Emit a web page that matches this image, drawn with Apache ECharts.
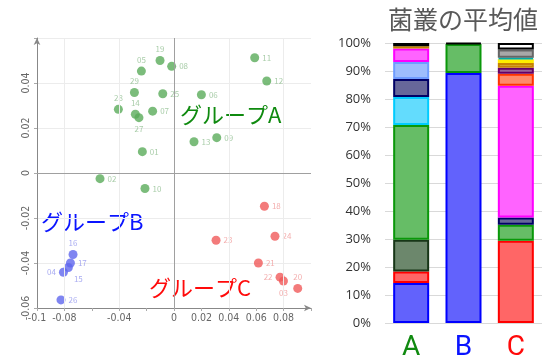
<!DOCTYPE html>
<html>
<head>
<meta charset="utf-8">
<script src="https://cdn.jsdelivr.net/npm/echarts@6/dist/echarts.min.js"></script>
<style>
  html, body { margin: 0; padding: 0; background: #fff; }
  #main { width: 547px; height: 357px; }
</style>
</head>
<body>
<div id="main"></div>
<script>
  // scatter: [x, y, sample id]
  var groupA = [
    [-0.0102, 0.0500, '19'], [-0.0017, 0.0474, '08'], [-0.0238, 0.0453, '05'],
    [0.0589, 0.0512, '11'], [0.0677, 0.0409, '12'], [-0.0289, 0.0358, '29'],
    [-0.0082, 0.0352, '25'], [0.0200, 0.0348, '06'], [-0.0406, 0.0283, '28'],
    [-0.0282, 0.0261, '14'], [-0.0256, 0.0246, '27'], [-0.0156, 0.0275, '07'],
    [0.0146, 0.0139, '13'], [0.0312, 0.0157, '09'], [-0.0231, 0.0095, '01'],
    [-0.0540, -0.0025, '02'], [-0.0212, -0.0069, '10']
  ];
  var groupB = [
    [-0.0737, -0.0362, '16'], [-0.0756, -0.0400, '17'], [-0.0771, -0.0420, '15'],
    [-0.0807, -0.0441, '04'], [-0.0825, -0.0564, '26']
  ];
  var groupC = [
    [0.0660, -0.0148, '18'], [0.0307, -0.0299, '23'], [0.0737, -0.0281, '24'],
    [0.0616, -0.0400, '21'], [0.0774, -0.0463, '22'], [0.0799, -0.0480, '03'],
    [0.0903, -0.0513, '20']
  ];
  var xLabelsShown = [-0.1, -0.08, -0.04, 0, 0.02, 0.04, 0.06, 0.08];
  var yLabelsShown = [-0.06, -0.04, -0.02, 0, 0.02, 0.04];

  // stacked bars (%), columns A, B, C
  var barCats = ['A', 'B', 'C'];
  var segBlue      = [14.3, 89.3, 0];
  var segRed       = [4.1, 0, 29.4];
  var segOlive     = [11.3, 0, 0];
  var segGreen     = [41.0, 10.3, 5.7];
  var segCyan      = [10.0, 0, 0];
  var segNavy      = [6.4, 0, 2.6];
  var segLightBlue = [6.1, 0, 0];
  var segMagenta   = [4.8, 0, 47.05];
  var segSalmon    = [0, 0, 4.25];
  var segPurple    = [0, 0, 2.2];
  var segGold      = [0.8, 0, 1.7];
  var segYellow    = [0, 0, 1.3];
  var segTeal      = [0, 0, 0.5];
  var segGray      = [0, 0, 3.0];
  var segWhite     = [0, 0, 2.3];
  var segBlack     = [1.2, 0.4, 0];

  var segments = [segBlue, segRed, segOlive, segGreen, segCyan, segNavy, segLightBlue,
    segMagenta, segSalmon, segPurple, segGold, segYellow, segTeal, segGray, segWhite, segBlack];
  var segFill = ['#6262fc', '#ff6666', '#6c876c', '#66bd66', '#63dcfd', '#67679a', '#9dbdfd',
    '#ff63ff', '#ff8a6a', '#9a639a', '#d8a838', '#ffff5a', '#66cccc', '#a8a8a8', '#ffffff', '#111111'];
  var segLine = ['#0000ff', '#ff0000', '#173617', '#0a980a', '#00ccff', '#000066', '#6f9cff',
    '#ff00ff', '#ff3300', '#660066', '#c88400', '#ffee00', '#00aaaa', '#666666', '#000000', '#000000'];

  var labelPos = {
    '19': 'top', '05': 'top', '29': 'top', '28': 'top', '14': 'top', '27': 'bottom',
    '16': 'top', '04': 'left', '22': 'left', '03': 'bottom', '20': 'top', '15': 'bottom'
  };

  function scatterSeries(pts, col, lab) {
    return {
      type: 'scatter',
      xAxisIndex: 0, yAxisIndex: 0,
      symbolSize: 9,
      itemStyle: { color: col },
      label: {
        show: true,
        formatter: function (p) { return p.value[2]; },
        fontSize: 8,
        color: lab,
        distance: 3,
        position: 'right'
      },
      data: pts.map(function (d) {
        var pos = labelPos[d[2]];
        if (!pos) return { value: d };
        return { value: d, label: { position: pos, offset: d[2] == '15' ? [10, 0] : [0, 0] } };
      })
    };
  }

  var gridLine = { color: '#ececec', width: 1, type: 'solid' };
  var zeroLine = { color: '#a0a0a0', width: 1, type: 'solid' };

  var series = [
    scatterSeries(groupA, '#5aab5a', '#93c193'),
    scatterSeries(groupB, '#5f66ee', '#9296ee'),
    scatterSeries(groupC, '#f05a5a', '#f09a9a'),
    {
      type: 'scatter', xAxisIndex: 0, yAxisIndex: 0, data: [], silent: true,
      markLine: {
        silent: true, symbol: ['none', 'none'], label: { show: false },
        data: [
          { xAxis: -0.08, lineStyle: gridLine },
          { xAxis: -0.04, lineStyle: gridLine },
          { xAxis: 0.04, lineStyle: gridLine },
          { xAxis: 0.08, lineStyle: gridLine },
          { xAxis: 0, lineStyle: zeroLine },
          { yAxis: 0, lineStyle: zeroLine }
        ]
      }
    }
  ];

  segments.forEach(function (seg, i) {
    series.push({
      type: 'bar',
      stack: 'taxa',
      xAxisIndex: 1, yAxisIndex: 1,
      barWidth: 36,
      data: seg.map(function (v) { return v > 0 ? v : '-'; }),
      itemStyle: { color: segFill[i], borderColor: segLine[i], borderWidth: 2 },
      emphasis: { disabled: true }
    });
  });

  var myChart = echarts.init(document.getElementById('main'));
  myChart.setOption({
    animation: false,
    textStyle: { fontFamily: '"Noto Sans CJK JP", "Noto Sans", sans-serif' },
    title: {
      text: '菌叢の平均値',
      left: 383, top: 2,
      textStyle: { fontSize: 25, fontWeight: 'normal', color: '#595959',
        fontFamily: '"Noto Sans CJK JP", sans-serif' }
    },
    grid: [
      { left: 37, top: 38, right: 236, bottom: 49, outerBoundsMode: 'none' },
      { left: 385, top: 43, right: 5, bottom: 34, outerBoundsMode: 'none' }
    ],
    xAxis: [
      {
        gridIndex: 0, type: 'value', min: -0.1, max: 0.1, interval: 0.02,
        axisLine: { onZero: false, lineStyle: { color: '#888' }, symbol: ['none', 'arrow'], symbolSize: [5, 7] },
        axisTick: { show: true, length: 3, lineStyle: { color: '#aaa' } },
        splitLine: { show: false },
        axisLabel: {
          fontSize: 10.5, color: '#666', margin: 5,
          fontFamily: '"DejaVu Sans Condensed", "Liberation Sans", sans-serif',
          formatter: function (v) {
            var r = Math.round(v * 100) / 100;
            return xLabelsShown.indexOf(r) >= 0 ? String(r) : '';
          }
        }
      },
      {
        gridIndex: 1, type: 'category', data: barCats,
        axisLine: { show: false }, axisTick: { show: false },
        axisLabel: {
          margin: 11,
          formatter: function (v) { return '{' + v + '|' + v + '}'; },
          rich: {
            A: { color: '#108a10', fontSize: 28, fontFamily: 'Roboto, sans-serif' },
            B: { color: '#0a14ff', fontSize: 28, fontFamily: 'Roboto, sans-serif' },
            C: { color: '#ff0a0a', fontSize: 28, fontFamily: 'Roboto, sans-serif' }
          }
        }
      }
    ],
    yAxis: [
      {
        gridIndex: 0, type: 'value', min: -0.06, max: 0.06, interval: 0.02,
        axisLine: { show: true, onZero: false, lineStyle: { color: '#888' }, symbol: ['none', 'arrow'], symbolSize: [5, 7] },
        axisTick: { show: true, length: 3, lineStyle: { color: '#aaa' } },
        splitLine: { show: true, lineStyle: { color: '#ececec' } },
        axisLabel: {
          rotate: 90, fontSize: 10.5, color: '#666', margin: 5,
          fontFamily: '"DejaVu Sans Condensed", "Liberation Sans", sans-serif',
          formatter: function (v) {
            var r = Math.round(v * 100) / 100;
            return yLabelsShown.indexOf(r) >= 0 ? String(r) : '';
          }
        }
      },
      {
        gridIndex: 1, type: 'value', min: 0, max: 100, interval: 10,
        axisLine: { show: false }, axisTick: { show: false },
        splitLine: { lineStyle: { color: '#d9d9d9', width: 1 } },
        axisLabel: { formatter: '{value}%', fontSize: 13, color: '#333', margin: 14,
          fontFamily: '"Open Sans", sans-serif' }
      }
    ],
    graphic: [
      { type: 'text', left: 180, top: 104,
        style: { text: 'グループA', fill: '#0f8a0f', font: '22px "Noto Sans CJK JP"' } },
      { type: 'text', left: 41, top: 211,
        style: { text: 'グループB', fill: '#0a14ff', font: '22px "Noto Sans CJK JP"' } },
      { type: 'text', left: 149, top: 277,
        style: { text: 'グループC', fill: '#ff0a0a', font: '22px "Noto Sans CJK JP"' } }
    ],
    series: series
  });
</script>
</body>
</html>
